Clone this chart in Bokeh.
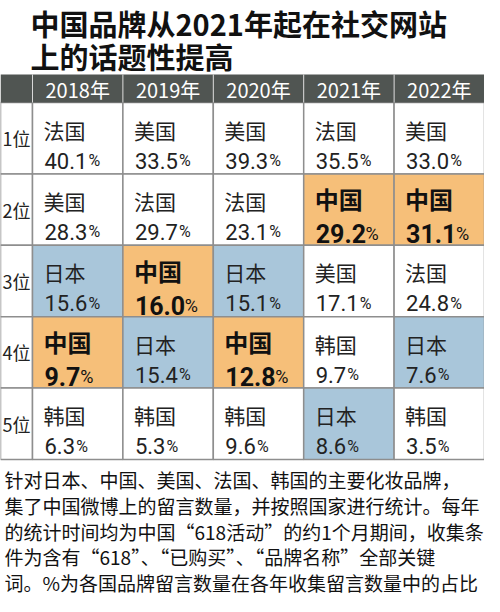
from bokeh.plotting import figure
from bokeh.models import Range1d, ColumnDataSource
from bokeh.core.properties import value
from bokeh.embed import file_html
from bokeh.resources import INLINE

# ---------------- data ----------------
title_lines = ["中国品牌从2021年起在社交网站", "上的话题性提高"]
years = ["2018年", "2019年", "2020年", "2021年", "2022年"]
ranks = ["1位", "2位", "3位", "4位", "5位"]

brand_2018 = ["法国", "美国", "日本", "中国", "韩国"]
share_2018 = [40.1, 28.3, 15.6, 9.7, 6.3]
brand_2019 = ["美国", "法国", "中国", "日本", "韩国"]
share_2019 = [33.5, 29.7, 16.0, 15.4, 5.3]
brand_2020 = ["美国", "法国", "日本", "中国", "韩国"]
share_2020 = [39.3, 23.1, 15.1, 12.8, 9.6]
brand_2021 = ["法国", "中国", "美国", "韩国", "日本"]
share_2021 = [35.5, 29.2, 17.1, 9.7, 8.6]
brand_2022 = ["美国", "中国", "法国", "日本", "韩国"]
share_2022 = [33.0, 31.1, 24.8, 7.6, 3.5]

brands = [brand_2018, brand_2019, brand_2020, brand_2021, brand_2022]
shares = [share_2018, share_2019, share_2020, share_2021, share_2022]

notes = [
    "针对日本、中国、美国、法国、韩国的主要化妆品牌，",
    "集了中国微博上的留言数量，并按照国家进行统计。每年",
    "的统计时间均为中国“618活动”的约1个月期间，收集条",
    "件为含有“618”、“已购买”、“品牌名称”全部关键",
    "词。%为各国品牌留言数量在各年收集留言数量中的占比",
]

# ---------------- style ----------------
W, H = 484, 596
RANK_W = 32
COL_W = (W - RANK_W) / 5
HEAD_TOP, HEAD_BOT = 74, 102
ROW_H = 71.4
ORANGE = "#f6bf79"
BLUE = "#a9c6da"
HEAD = "#505552"
GRID = "#8e8e8e"
CJK = value("Noto Sans CJK SC")
NUM = value("Roboto")
fill_for = {"中国": ORANGE, "日本": BLUE}


def num_width(s, size):
    return sum(0.562 if c.isdigit() else 0.27 for c in s) * size


p = figure(width=W, height=H, x_range=Range1d(0, W), y_range=Range1d(H, 0),
           output_backend="svg", toolbar_location=None, min_border=0,
           x_axis_type=None, y_axis_type=None)
p.grid.visible = False
p.outline_line_color = None
p.background_fill_color = "white"
p.border_fill_color = "white"

# ---------------- cells ----------------
cx, cy, cfill = [], [], []
reg = dict(nx=[], ny=[], name=[], vx=[], vy=[], val=[], px=[])
bold = dict(nx=[], ny=[], name=[], vx=[], vy=[], val=[], px=[])
for i, yr in enumerate(years):
    left = RANK_W + i * COL_W
    for r in range(len(ranks)):
        top = HEAD_BOT + r * ROW_H
        b = brands[i][r]
        cx.append(left + COL_W / 2)
        cy.append(top + ROW_H / 2)
        cfill.append(fill_for.get(b, "white"))
        s = f"{shares[i][r]:.1f}"
        is_b = b == "中国"
        d = bold if is_b else reg
        size = 25 if is_b else 22
        d["nx"].append(left + 11)
        d["ny"].append(top + (25 if is_b else 27))
        d["name"].append(b)
        d["vx"].append(left + 12)
        d["vy"].append(top + (60 if is_b else 58))
        d["val"].append(s)
        d["px"].append(left + 12 + num_width(s, size) + 1)

# rank column cells
rx = [RANK_W / 2] * len(ranks)
ry = [HEAD_BOT + (r + 0.5) * ROW_H for r in range(len(ranks))]
p.rect(x=rx, y=ry, width=RANK_W, height=ROW_H, fill_color="white",
       line_color=GRID, line_width=1.5)
p.rect(x=cx, y=cy, width=COL_W, height=ROW_H, fill_color=cfill,
       line_color=GRID, line_width=1.5)

# header row
hx = [RANK_W / 2] + [RANK_W + (i + 0.5) * COL_W for i in range(len(years))]
hw = [RANK_W] + [COL_W] * len(years)
hy = (HEAD_TOP + HEAD_BOT) / 2
p.rect(x=hx, y=[hy] * len(hx), width=hw, height=HEAD_BOT - HEAD_TOP,
       fill_color=HEAD, line_color=None)
sep_x = [RANK_W + i * COL_W for i in range(len(years))]
p.segment(x0=sep_x, y0=[HEAD_TOP] * len(sep_x), x1=sep_x, y1=[HEAD_BOT] * len(sep_x),
          line_color="#d8d8d8", line_width=1)
p.text(x=hx[1:], y=[hy + 1] * len(years), text=years, text_font=CJK,
       text_font_size="20px", text_color="white", text_align="center",
       text_baseline="middle")

# rank labels
p.text(x=[16] * len(ranks), y=ry, text=ranks, text_font=CJK, text_font_size="18px",
       text_color="#222222", text_align="center", text_baseline="middle")

# cell texts
for d, nsz, vsz, psz, style, col in [
        (reg, "21px", "22px", "16px", "normal", "#222222"),
        (bold, "24px", "25px", "18px", "bold", "#111111")]:
    src = ColumnDataSource(d)
    p.text(x="nx", y="ny", text="name", source=src, text_font=CJK,
           text_font_size=nsz, text_font_style=value(style), text_color=col,
           text_align="left", text_baseline="middle")
    p.text(x="vx", y="vy", text="val", source=src, text_font=NUM,
           text_font_size=vsz, text_font_style=value(style), text_color=col,
           text_align="left", text_baseline="alphabetic")
    p.text(x="px", y="vy", text=value("%"), source=src, text_font=NUM,
           text_font_size=psz, text_color=col,
           text_align="left", text_baseline="alphabetic")

# title
p.text(x=[30, 30], y=[22, 55], text=title_lines, text_font=CJK,
       text_font_size="29px", text_font_style=value("bold"), text_color="#111111",
       text_align="left", text_baseline="middle")

# footnote
p.text(x=[4] * len(notes), y=[479 + k * 25.8 for k in range(len(notes))], text=notes,
       text_font=CJK, text_font_size="19px", text_color="#111111",
       text_align="left", text_baseline="middle")

open("out.html", "w").write(file_html(p, INLINE))
